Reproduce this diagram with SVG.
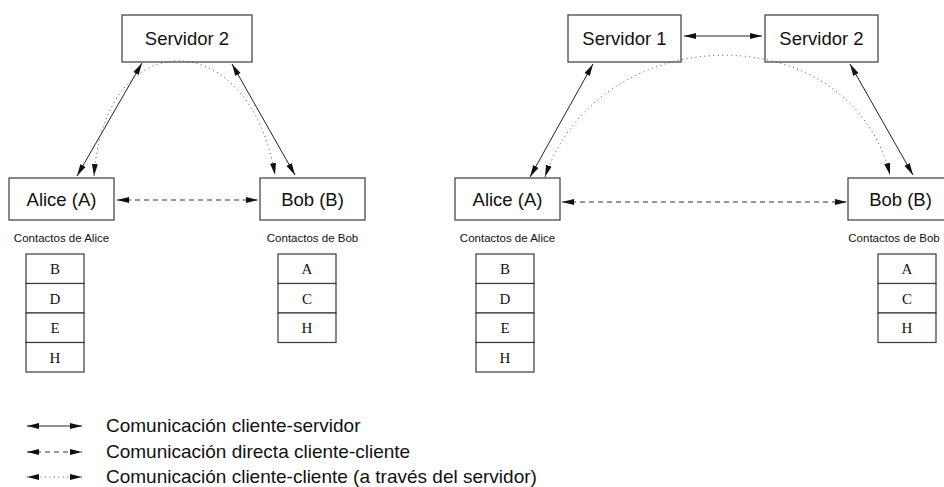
<svg xmlns="http://www.w3.org/2000/svg" width="944" height="487" viewBox="0 0 944 487">
  <style>
    .box { fill: #fff; stroke: #3a3a3a; stroke-width: 1.2; }
    .lbl { font-family: "Liberation Sans", Arial, sans-serif; font-size: 18.5px; fill: #111; text-anchor: middle; }
    .cap { font-family: "Liberation Sans", Arial, sans-serif; font-size: 11.5px; fill: #111; text-anchor: middle; }
    .cell { font-family: "Liberation Serif", "Times New Roman", serif; font-size: 15px; fill: #111; text-anchor: middle; }
    .leg { font-family: "Liberation Sans", Arial, sans-serif; font-size: 19px; fill: #111; }
    .solid { fill: none; stroke: #222; stroke-width: 1; marker-start: url(#ah); marker-end: url(#ah); }
    .dash { fill: none; stroke: #333; stroke-width: 1; stroke-dasharray: 5 4; marker-start: url(#ah); marker-end: url(#ah); }
    .dot { fill: none; stroke: #555; stroke-width: 1; stroke-dasharray: 1 3.5; marker-start: url(#ah); marker-end: url(#ah); }
  </style>
  <defs>
    <marker id="ah" markerUnits="userSpaceOnUse" markerWidth="12" markerHeight="8" refX="10" refY="3" orient="auto-start-reverse" viewBox="0 0 10 6">
      <path d="M0,0.5 L10,3 L0,5.5 Z" fill="#111"/>
    </marker>
  </defs>

  <!-- left scenario: one shared server -->
  <g id="l-servidor2">
    <rect class="box" x="122" y="15" width="130" height="47"/>
    <text class="lbl" x="187" y="45">Servidor 2</text>
  </g>
  <g id="l-alice">
    <rect class="box" x="9" y="178" width="105" height="42"/>
    <text class="lbl" x="61.5" y="206">Alice (A)</text>
  </g>
  <g id="l-bob">
    <rect class="box" x="260" y="178" width="105" height="42"/>
    <text class="lbl" x="312.5" y="206">Bob (B)</text>
  </g>
  <g id="l-alice-contacts">
    <text class="cap" x="61.5" y="242">Contactos de Alice</text>
    <rect class="box" x="26" y="254" width="58" height="29.5"/>
    <rect class="box" x="26" y="283.5" width="58" height="29.5"/>
    <rect class="box" x="26" y="313" width="58" height="29.5"/>
    <rect class="box" x="26" y="342.5" width="58" height="29.5"/>
    <text class="cell" x="55" y="274">B</text>
    <text class="cell" x="55" y="303.5">D</text>
    <text class="cell" x="55" y="333">E</text>
    <text class="cell" x="55" y="362.5">H</text>
  </g>
  <g id="l-bob-contacts">
    <text class="cap" x="312.5" y="242">Contactos de Bob</text>
    <rect class="box" x="278" y="254" width="58" height="29.5"/>
    <rect class="box" x="278" y="283.5" width="58" height="29.5"/>
    <rect class="box" x="278" y="313" width="58" height="29.5"/>
    <text class="cell" x="307" y="274">A</text>
    <text class="cell" x="307" y="303.5">C</text>
    <text class="cell" x="307" y="333">H</text>
  </g>

  <!-- right scenario: two linked servers -->
  <g id="r-servidor1">
    <rect class="box" x="568" y="15" width="113" height="47"/>
    <text class="lbl" x="624.5" y="45">Servidor 1</text>
  </g>
  <g id="r-servidor2">
    <rect class="box" x="765" y="15" width="113" height="47"/>
    <text class="lbl" x="821.5" y="45">Servidor 2</text>
  </g>
  <g id="r-alice">
    <rect class="box" x="455" y="178" width="105" height="42"/>
    <text class="lbl" x="507.5" y="206">Alice (A)</text>
  </g>
  <g id="r-bob">
    <rect class="box" x="848" y="178" width="105" height="42"/>
    <text class="lbl" x="900.5" y="206">Bob (B)</text>
  </g>
  <g id="r-alice-contacts">
    <text class="cap" x="507.5" y="242">Contactos de Alice</text>
    <rect class="box" x="476" y="254" width="58" height="29.5"/>
    <rect class="box" x="476" y="283.5" width="58" height="29.5"/>
    <rect class="box" x="476" y="313" width="58" height="29.5"/>
    <rect class="box" x="476" y="342.5" width="58" height="29.5"/>
    <text class="cell" x="505" y="274">B</text>
    <text class="cell" x="505" y="303.5">D</text>
    <text class="cell" x="505" y="333">E</text>
    <text class="cell" x="505" y="362.5">H</text>
  </g>
  <g id="r-bob-contacts">
    <text class="cap" x="894" y="242">Contactos de Bob</text>
    <rect class="box" x="878" y="254" width="58" height="29.5"/>
    <rect class="box" x="878" y="283.5" width="58" height="29.5"/>
    <rect class="box" x="878" y="313" width="58" height="29.5"/>
    <text class="cell" x="907" y="274">A</text>
    <text class="cell" x="907" y="303.5">C</text>
    <text class="cell" x="907" y="333">H</text>
  </g>

  <g id="connectors">
    <!-- left -->
    <line class="solid" x1="142" y1="63" x2="77" y2="176"/>
    <line class="solid" x1="232" y1="64" x2="295" y2="175"/>
    <path class="dot" d="M94,176 C105,20 250,25 275,175"/>
    <line class="dash" x1="117" y1="200" x2="258" y2="200"/>
    <!-- right -->
    <line class="solid" x1="684" y1="36" x2="762" y2="36"/>
    <line class="solid" x1="593" y1="64" x2="530" y2="177"/>
    <line class="solid" x1="850" y1="64" x2="913" y2="175"/>
    <path class="dot" d="M545,177 C600,16 850,14 890,175"/>
    <line class="dash" x1="562" y1="202" x2="847" y2="202"/>
  </g>

  <g id="legend">
    <line class="solid" x1="27" y1="426" x2="82" y2="426"/>
    <line class="dash" x1="27" y1="452" x2="82" y2="452"/>
    <line class="dot" x1="27" y1="477" x2="82" y2="477"/>
    <text class="leg" x="106" y="432">Comunicación cliente-servidor</text>
    <text class="leg" x="106" y="458">Comunicación directa cliente-cliente</text>
    <text class="leg" x="106" y="483">Comunicación cliente-cliente (a través del servidor)</text>
  </g>
</svg>
